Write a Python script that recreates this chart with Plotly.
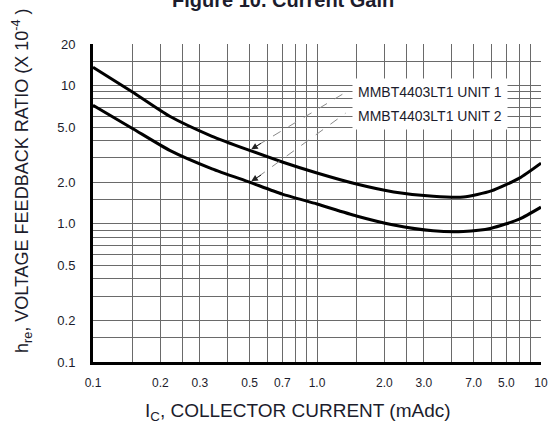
import math
import plotly.graph_objects as go

# Collector current (mAdc)
ic_ma = [0.1, 0.15, 0.22, 0.34, 0.5, 0.7, 1.0, 1.5, 2.2, 3.3, 4.5, 6.0, 8.0, 10]
# h_re (x 10^-4) for the two units
unit1_hre = [13.6, 9.0, 6.0, 4.3, 3.4, 2.8, 2.33, 1.94, 1.70, 1.58, 1.56, 1.73, 2.14, 2.75]
unit2_hre = [7.2, 4.9, 3.4, 2.5, 2.0, 1.64, 1.39, 1.14, 0.98, 0.89, 0.88, 0.93, 1.08, 1.32]

unit_names = ["MMBT4403LT1 UNIT 1", "MMBT4403LT1 UNIT 2"]

x_tickvals = [0.1, 0.2, 0.3, 0.5, 0.7, 1.0, 2.0, 3.0, 5.0, 7.0, 10]
x_ticktext = ["0.1", "0.2", "0.3", "0.5", "0.7", "1.0", "2.0", "3.0", "7.0", "5.0", "10"]
x_minor = [0.15, 0.25, 0.4, 0.6, 0.8, 0.9, 1.5, 2.5, 4, 6, 8, 9]

y_tickvals = [0.1, 0.2, 0.5, 1.0, 2.0, 5.0, 10, 20]
y_ticktext = ["0.1", "0.2", "0.5", "1.0", "2.0", "5.0", "10", "20"]
y_minor = [0.15, 0.3, 0.4, 0.6, 0.7, 0.8, 0.9, 1.5, 3, 4, 6, 7, 8, 9, 15]

GRID = "#6a6a6a"
TEXT = "#1c1c2c"
FONT = "Liberation Sans, Arial, sans-serif"

fig = go.Figure()
for name, vals in zip(unit_names, [unit1_hre, unit2_hre]):
    fig.add_trace(go.Scatter(
        x=ic_ma, y=vals, name=name, mode="lines",
        line=dict(color="black", width=3, shape="spline", smoothing=0.6),
        showlegend=False,
    ))

# Curve labels on a white block
for i, name in enumerate(unit_names):
    fig.add_annotation(
        xref="paper", yref="paper", x=0.578, y=0.848 - i * 0.073,
        xanchor="left", yanchor="middle", text=name, showarrow=False,
        font=dict(family=FONT, size=14, color=TEXT),
        bgcolor="white", borderpad=5,
    )

# Dashed leader lines from the labels to each curve, with arrowheads
idx = 4
leaders = [(unit1_hre[idx], 96, 58), (unit2_hre[idx], 96, 69)]
for val, dx, dy in leaders:
    fig.add_shape(
        type="line", xref="x", yref="y",
        xsizemode="pixel", ysizemode="pixel",
        xanchor=ic_ma[idx], yanchor=val,
        x0=8, y0=5, x1=dx, y1=dy,
        line=dict(color="#8a8a8a", width=1, dash="dash"),
    )
    # annotations on log axes take log10 positions
    fig.add_annotation(
        x=math.log10(ic_ma[idx]), y=math.log10(val), xref="x", yref="y",
        ax=13, ay=-8, text=" ", showarrow=True,
        arrowhead=2, arrowsize=1.3, arrowwidth=1, arrowcolor="#222", standoff=2,
        font=dict(size=1),
    )

# Title (sits at the very top edge)
fig.add_annotation(
    xref="paper", yref="paper", x=0.425, y=1.137, xanchor="center", yanchor="middle",
    text="<b>Figure 10. Current Gain</b>", showarrow=False,
    font=dict(family=FONT, size=20, color=TEXT),
)

# Axis titles
fig.add_annotation(
    xref="paper", yref="paper", x=-0.158, y=0.57, xanchor="center", yanchor="middle",
    text="h<sub>re</sub>, VOLTAGE FEEDBACK RATIO (X 10<sup>-4</sup> )", textangle=-90,
    showarrow=False, font=dict(family=FONT, size=18, color=TEXT),
)
fig.add_annotation(
    xref="paper", yref="paper", x=0.457, y=-0.158, xanchor="center", yanchor="middle",
    text="I<sub>C</sub>, COLLECTOR CURRENT (mAdc)", showarrow=False,
    font=dict(family=FONT, size=19, color=TEXT),
)

fig.update_xaxes(
    type="log", range=[-1, 1],
    tickmode="array", tickvals=x_tickvals, ticktext=x_ticktext,
    ticks="", ticklabelstandoff=8,
    tickfont=dict(family=FONT, size=12, color=TEXT),
    showgrid=True, gridcolor=GRID, gridwidth=1,
    minor=dict(tickmode="array", tickvals=x_minor, showgrid=True, gridcolor=GRID, gridwidth=1, ticks=""),
    showline=True, linecolor="black", linewidth=3, mirror=False,
)
fig.update_yaxes(
    type="log", range=[-1, 1.30103],
    tickmode="array", tickvals=y_tickvals, ticktext=y_ticktext,
    ticks="", ticklabelstandoff=12,
    tickfont=dict(family=FONT, size=13, color=TEXT),
    showgrid=True, gridcolor=GRID, gridwidth=1,
    minor=dict(tickmode="array", tickvals=y_minor, showgrid=True, gridcolor=GRID, gridwidth=1, ticks=""),
    showline=True, linecolor="black", linewidth=3, mirror=False,
)

fig.update_layout(
    width=555, height=423,
    margin=dict(l=93, r=7, t=44, b=61),
    paper_bgcolor="white", plot_bgcolor="white",
    font=dict(family=FONT, color=TEXT),
)

fig.write_html("out.html")
